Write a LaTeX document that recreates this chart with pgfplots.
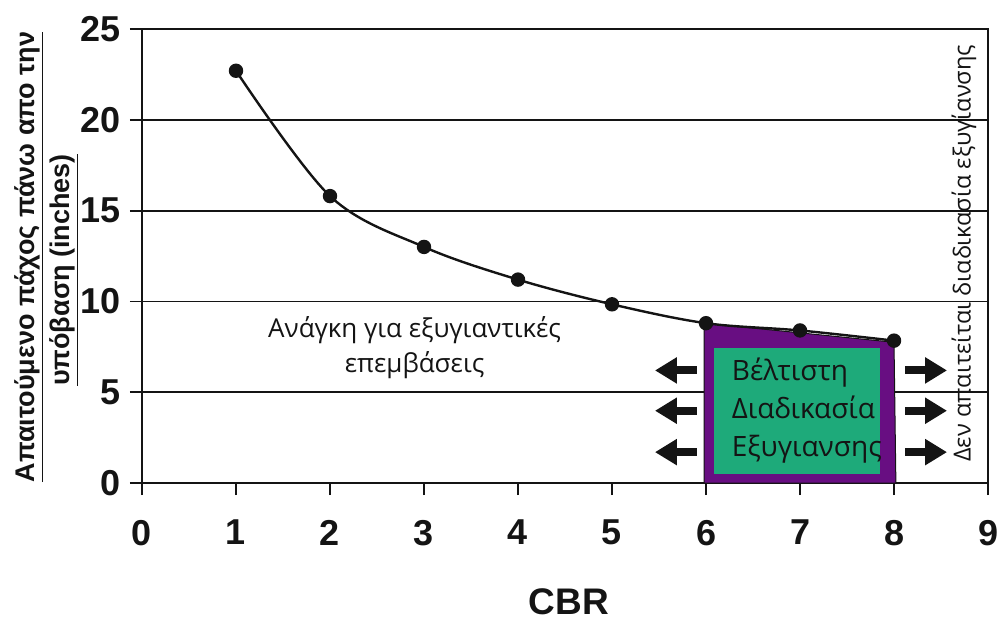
\documentclass[border=0pt]{standalone}
\usepackage{fontspec}
\setmainfont{Liberation Sans}
\newfontfamily\osans{Open Sans}
\usepackage{pgfplots}
\pgfplotsset{compat=1.18}
\usetikzlibrary{arrows.meta}
\definecolor{boxpurple}{RGB}{104,14,130}
\definecolor{boxgreen}{RGB}{30,170,122}
\definecolor{ink}{RGB}{20,20,20}
\begin{document}
\begin{tikzpicture}
\useasboundingbox (-71pt,-70pt) rectangle (428.5pt,241.5pt);
\begin{axis}[
  at={(0,0)}, anchor=origin,
  x=47pt, y=9.08pt,
  xmin=0, xmax=9, ymin=0, ymax=25,
  xtick={0,1,...,9}, ytick={0,5,...,25},
  tick pos=left, tick align=outside,
  major tick length=6pt,
  axis line style={ink, line width=0.8pt},
  every tick/.style={ink, line width=0.9pt},
  ymajorgrids, grid style={ink, line width=0.9pt},
  /pgf/number format/assume math mode=true,
  tick label style={font=\fontsize{18}{18}\selectfont\bfseries, text=ink},
  xticklabel style={yshift=-9pt},
  yticklabel style={xshift=-1pt},
  clip=false,
]
% purple region
\addplot[fill=boxpurple, draw=ink, line width=0.5pt] coordinates {(5.98,0) (5.98,8.8) (8.0,7.75) (8.02,0)} -- cycle;
% green box
\addplot[fill=boxgreen, draw=none] coordinates {(6.085,0.5) (6.085,7.43) (7.85,7.43) (7.85,0.5)} -- cycle;
% curve
\addplot[ink, line width=1.2pt, smooth, tension=0.55, mark=*, mark size=3pt, mark options={fill=ink}]
  coordinates {(1,22.7) (2,15.8) (3,13.0) (4,11.2) (5,9.84) (6,8.8) (7,8.4) (8,7.84)};
% arrows
\foreach \yy in {6.2,3.98,1.7}{
  \edef\temp{\noexpand\draw[ink, line width=4pt, -{Triangle[length=11pt,width=12.5pt]}] (axis cs:5.904,\yy) -- (axis cs:5.457,\yy);
  \noexpand\draw[ink, line width=4pt, -{Triangle[length=11pt,width=12.5pt]}] (axis cs:8.117,\yy) -- (axis cs:8.564,\yy);}
  \temp
}
% texts
\node[anchor=west, align=left, font=\osans\fontsize{14}{19}\selectfont, text=ink] at (axis cs:6.2,4.0) {Βέλτιστη\\Διαδικασία\\Εξυγιανσης};
\node[align=center, font=\osans\fontsize{13}{17.5}\selectfont, text=ink] at (axis cs:2.9,7.45) {Ανάγκη για εξυγιαντικές\\επεμβάσεις};
\node[rotate=90, font=\osans\fontsize{11.8}{12}\selectfont, text=ink] at (axis cs:8.745,12.66) {Δεν απαιτείται διαδικασία εξυγίανσης};
\node[rotate=90, font=\fontsize{13.5}{14}\selectfont\bfseries, text=ink] at (axis cs:-1.2,12.45) {\underline{Απαιτούμενο πάχος πάνω απο την}};
\node[rotate=90, font=\fontsize{13.5}{14}\selectfont\bfseries, text=ink] at (axis cs:-0.83,11.73) {\underline{υπόβαση (inches)}};
\node[font=\fontsize{18.5}{20}\selectfont\bfseries, text=ink] at (axis cs:4.54,-6.55) {CBR};
\end{axis}
\end{tikzpicture}
\end{document}
